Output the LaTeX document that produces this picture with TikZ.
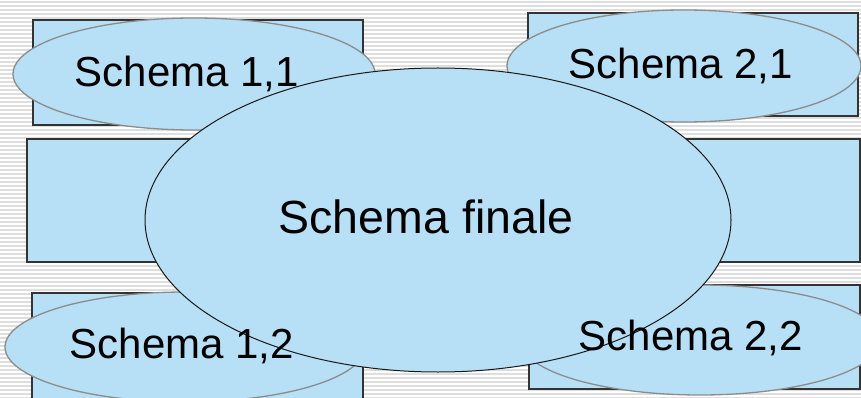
\documentclass[tikz,border=0pt]{standalone}
\usepackage{fontspec}
\setmainfont{Liberation Sans}
\usetikzlibrary{shapes.geometric}
\definecolor{boxblue}{RGB}{183,223,246}
\definecolor{stripe}{RGB}{222,222,222}
\tikzset{
  box/.style={fill=boxblue, draw=black!80, line width=1.6pt},
  smallell/.style={ellipse, fill=boxblue, draw=black!45, line width=1.3pt, inner sep=0pt},
  bigell/.style={ellipse, fill=boxblue, draw=black!90, line width=1pt, inner sep=0pt},
  smalltxt/.style={anchor=base, inner sep=0pt, font=\fontsize{42}{48}\selectfont},
  bigtxt/.style={anchor=base, inner sep=0pt, font=\fontsize{46.5}{54}\selectfont}
}
\begin{document}
\begin{tikzpicture}[x=1pt,y=-1pt]
\useasboundingbox (0,0) rectangle (861,398);
\fill[white] (0,0) rectangle (861,398);
\foreach \yy in {2,6,...,398} {\draw[stripe, line width=1.2pt] (0,\yy) -- (861,\yy);}
% rectangles
\draw[box] (33,20) rectangle (363,125);
\draw[box] (528,13) rectangle (858,116);
\draw[box] (27,139) rectangle (860,262);
\draw[box] (32,293) rectangle (363,400);
\draw[box] (529,285) rectangle (860,389);
% small ellipses
\node[smallell, minimum width=362pt, minimum height=112pt] (e11) at (194,74) {};
\node[smallell, minimum width=354pt, minimum height=112pt] (e21) at (684,66) {};
\node[smallell, minimum width=360pt, minimum height=110pt] (e12) at (185,347) {};
\node[smallell, minimum width=360pt, minimum height=110pt] (e22) at (700,340) {};
% big ellipse
\node[bigell, minimum width=586pt, minimum height=304pt] (big) at (438,220) {};
% texts
\node[smalltxt] (t11) at (187,87) {Schema 1,1};
\node[smalltxt] (t21) at (681,79) {Schema 2,1};
\node[smalltxt] (t12) at (182,358) {Schema 1,2};
\node[smalltxt] (t22) at (691,350) {Schema 2,2};
\node[bigtxt] (tb) at (426,233) {Schema finale};
\end{tikzpicture}
\end{document}
